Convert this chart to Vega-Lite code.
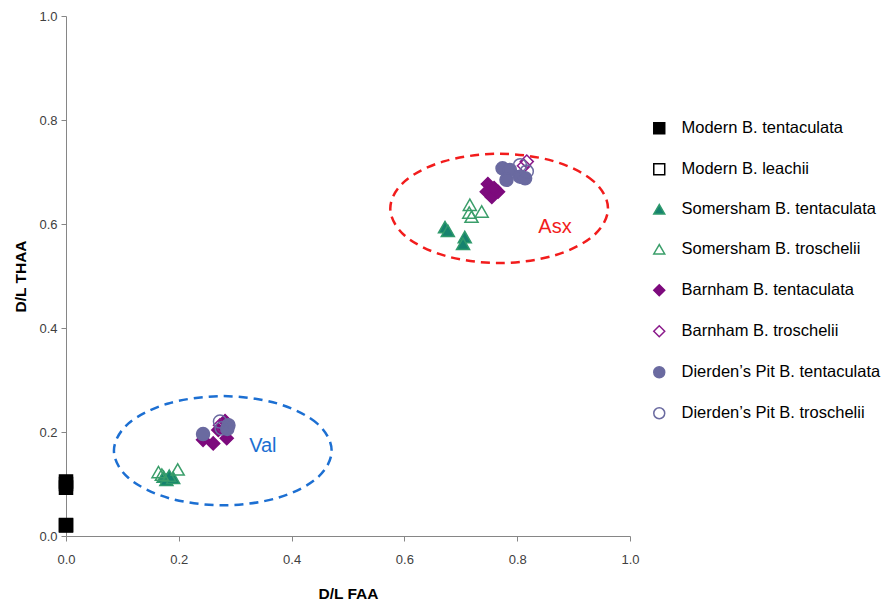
{
  "$schema": "https://vega.github.io/schema/vega-lite/v6.json",
  "width": 564,
  "height": 520,
  "autosize": {"type": "none"},
  "padding": {"left": 66, "top": 16, "right": 252, "bottom": 66},
  "background": "white",
  "config": {
    "view": {"stroke": null},
    "font": "Liberation Sans",
    "axis": {
      "grid": false,
      "domainColor": "#868686",
      "tickColor": "#868686",
      "tickSize": 5,
      "labelFontSize": 13,
      "labelColor": "#404040",
      "labelFlush": false,
      "titleFontSize": 15.5,
      "titleFontWeight": "bold",
      "titleColor": "#000000"
    }
  },
  "datasets": {
    "points": [
      {"series": "Modern B. leachii", "faa": 0, "thaa": 0.100},
      {"series": "Modern B. leachii", "faa": 0, "thaa": 0.020},
      {"series": "Modern B. tentaculata", "faa": 0, "thaa": 0.105},
      {"series": "Modern B. tentaculata", "faa": 0, "thaa": 0.093},
      {"series": "Modern B. tentaculata", "faa": 0, "thaa": 0.021},
      {"series": "Somersham B. tentaculata", "faa": 0.672, "thaa": 0.594},
      {"series": "Somersham B. tentaculata", "faa": 0.677, "thaa": 0.587},
      {"series": "Somersham B. tentaculata", "faa": 0.707, "thaa": 0.575},
      {"series": "Somersham B. tentaculata", "faa": 0.704, "thaa": 0.562},
      {"series": "Somersham B. tentaculata", "faa": 0.173, "thaa": 0.114},
      {"series": "Somersham B. tentaculata", "faa": 0.178, "thaa": 0.108},
      {"series": "Somersham B. tentaculata", "faa": 0.190, "thaa": 0.112},
      {"series": "Somersham B. tentaculata", "faa": 0.183, "thaa": 0.116},
      {"series": "Somersham B. troschelii", "faa": 0.716, "thaa": 0.637},
      {"series": "Somersham B. troschelii", "faa": 0.715, "thaa": 0.622},
      {"series": "Somersham B. troschelii", "faa": 0.719, "thaa": 0.614},
      {"series": "Somersham B. troschelii", "faa": 0.737, "thaa": 0.624},
      {"series": "Somersham B. troschelii", "faa": 0.164, "thaa": 0.123},
      {"series": "Somersham B. troschelii", "faa": 0.198, "thaa": 0.128},
      {"series": "Somersham B. troschelii", "faa": 0.170, "thaa": 0.118},
      {"series": "Barnham B. tentaculata", "faa": 0.748, "thaa": 0.677},
      {"series": "Barnham B. tentaculata", "faa": 0.746, "thaa": 0.662},
      {"series": "Barnham B. tentaculata", "faa": 0.755, "thaa": 0.652},
      {"series": "Barnham B. tentaculata", "faa": 0.766, "thaa": 0.662},
      {"series": "Barnham B. tentaculata", "faa": 0.759, "thaa": 0.669},
      {"series": "Barnham B. tentaculata", "faa": 0.243, "thaa": 0.185},
      {"series": "Barnham B. tentaculata", "faa": 0.261, "thaa": 0.178},
      {"series": "Barnham B. tentaculata", "faa": 0.285, "thaa": 0.188},
      {"series": "Barnham B. tentaculata", "faa": 0.270, "thaa": 0.204},
      {"series": "Barnham B. tentaculata", "faa": 0.282, "thaa": 0.221},
      {"series": "Barnham B. troschelii", "faa": 0.817, "thaa": 0.720},
      {"series": "Barnham B. troschelii", "faa": 0.812, "thaa": 0.712},
      {"series": "Barnham B. troschelii", "faa": 0.273, "thaa": 0.213},
      {"series": "Dierden’s Pit B. tentaculata", "faa": 0.774, "thaa": 0.707},
      {"series": "Dierden’s Pit B. tentaculata", "faa": 0.787, "thaa": 0.704},
      {"series": "Dierden’s Pit B. tentaculata", "faa": 0.781, "thaa": 0.685},
      {"series": "Dierden’s Pit B. tentaculata", "faa": 0.805, "thaa": 0.691},
      {"series": "Dierden’s Pit B. tentaculata", "faa": 0.814, "thaa": 0.688},
      {"series": "Dierden’s Pit B. tentaculata", "faa": 0.243, "thaa": 0.196},
      {"series": "Dierden’s Pit B. tentaculata", "faa": 0.288, "thaa": 0.213},
      {"series": "Dierden’s Pit B. tentaculata", "faa": 0.286, "thaa": 0.206},
      {"series": "Dierden’s Pit B. troschelii", "faa": 0.805, "thaa": 0.713},
      {"series": "Dierden’s Pit B. troschelii", "faa": 0.817, "thaa": 0.701},
      {"series": "Dierden’s Pit B. troschelii", "faa": 0.273, "thaa": 0.220},
      {"series": "Dierden’s Pit B. troschelii", "faa": 0.276, "thaa": 0.207}
    ],
    "ellipses": [
      {"group": "Asx", "i": 0, "faa": 0.961, "thaa": 0.630},
      {"group": "Asx", "i": 1, "faa": 0.9351, "thaa": 0.6825},
      {"group": "Asx", "i": 2, "faa": 0.8645, "thaa": 0.7209},
      {"group": "Asx", "i": 3, "faa": 0.768, "thaa": 0.735},
      {"group": "Asx", "i": 4, "faa": 0.6715, "thaa": 0.7209},
      {"group": "Asx", "i": 5, "faa": 0.6009, "thaa": 0.6825},
      {"group": "Asx", "i": 6, "faa": 0.575, "thaa": 0.630},
      {"group": "Asx", "i": 7, "faa": 0.6009, "thaa": 0.5775},
      {"group": "Asx", "i": 8, "faa": 0.6715, "thaa": 0.5391},
      {"group": "Asx", "i": 9, "faa": 0.768, "thaa": 0.525},
      {"group": "Asx", "i": 10, "faa": 0.8645, "thaa": 0.5391},
      {"group": "Asx", "i": 11, "faa": 0.9351, "thaa": 0.5775},
      {"group": "Val", "i": 0, "faa": 0.471, "thaa": 0.164},
      {"group": "Val", "i": 1, "faa": 0.4451, "thaa": 0.2165},
      {"group": "Val", "i": 2, "faa": 0.3745, "thaa": 0.2549},
      {"group": "Val", "i": 3, "faa": 0.278, "thaa": 0.269},
      {"group": "Val", "i": 4, "faa": 0.1815, "thaa": 0.2549},
      {"group": "Val", "i": 5, "faa": 0.1109, "thaa": 0.2165},
      {"group": "Val", "i": 6, "faa": 0.085, "thaa": 0.164},
      {"group": "Val", "i": 7, "faa": 0.1109, "thaa": 0.1115},
      {"group": "Val", "i": 8, "faa": 0.1815, "thaa": 0.0731},
      {"group": "Val", "i": 9, "faa": 0.278, "thaa": 0.059},
      {"group": "Val", "i": 10, "faa": 0.3745, "thaa": 0.0731},
      {"group": "Val", "i": 11, "faa": 0.4451, "thaa": 0.1115}
    ],
    "labels": [
      {"group": "Asx", "faa": 0.867, "thaa": 0.594},
      {"group": "Val", "faa": 0.349, "thaa": 0.174}
    ]
  },
  "layer": [
    {
      "data": {"name": "ellipses"},
      "transform": [{"filter": "datum.group === 'Asx'"}],
      "mark": {"type": "line", "interpolate": "cardinal-closed", "stroke": "#f21c1c", "strokeWidth": 2.5, "strokeDash": [9, 6], "clip": false},
      "encoding": {
        "x": {"field": "faa", "type": "quantitative", "title": "D/L FAA"},
        "y": {"field": "thaa", "type": "quantitative", "title": "D/L THAA"},
        "order": {"field": "i", "type": "quantitative"}
      }
    },
    {
      "data": {"name": "ellipses"},
      "transform": [{"filter": "datum.group === 'Val'"}],
      "mark": {"type": "line", "interpolate": "cardinal-closed", "stroke": "#1c6fd2", "strokeWidth": 2.5, "strokeDash": [9, 6], "clip": false},
      "encoding": {
        "x": {"field": "faa", "type": "quantitative", "title": "D/L FAA"},
        "y": {"field": "thaa", "type": "quantitative", "title": "D/L THAA"},
        "order": {"field": "i", "type": "quantitative"}
      }
    },
    {
      "data": {"name": "labels"},
      "mark": {"type": "text", "fontSize": 20, "align": "center", "baseline": "middle"},
      "encoding": {
        "x": {"field": "faa", "type": "quantitative", "title": "D/L FAA"},
        "y": {"field": "thaa", "type": "quantitative", "title": "D/L THAA"},
        "text": {"field": "group"},
        "color": {
          "field": "group",
          "type": "nominal",
          "scale": {"domain": ["Asx", "Val"], "range": ["#f21c1c", "#1c6fd2"]},
          "legend": null
        }
      }
    },
    {
      "data": {"name": "points"},
      "mark": {"type": "point", "size": 170, "strokeWidth": 1.5, "opacity": 1, "clip": false},
      "encoding": {
        "x": {
          "field": "faa",
          "type": "quantitative",
          "title": "D/L FAA",
          "scale": {"domain": [0, 1], "nice": false},
          "axis": {"values": [0, 0.2, 0.4, 0.6, 0.8, 1], "format": ".1f", "labelPadding": 12, "titlePadding": 20}
        },
        "y": {
          "field": "thaa",
          "type": "quantitative",
          "title": "D/L THAA",
          "scale": {"domain": [0, 1], "nice": false},
          "axis": {"values": [0, 0.2, 0.4, 0.6, 0.8, 1], "format": ".1f", "labelPadding": 4, "titlePadding": 10}
        },
        "shape": {
          "field": "series",
          "type": "nominal",
          "scale": {
            "domain": ["Modern B. tentaculata", "Modern B. leachii", "Somersham B. tentaculata", "Somersham B. troschelii", "Barnham B. tentaculata", "Barnham B. troschelii", "Dierden’s Pit B. tentaculata", "Dierden’s Pit B. troschelii"],
            "range": ["square", "square", "triangle-up", "triangle-up", "diamond", "diamond", "circle", "circle"]
          },
          "legend": {
            "title": null,
            "orient": "none",
            "legendX": 585,
            "legendY": 104,
            "padding": 0,
            "labelFontSize": 16.5,
            "labelColor": "#000000",
            "labelOffset": 14,
            "rowPadding": 23,
            "symbolSize": 120,
            "symbolStrokeWidth": 1.5,
            "labelLimit": 300
          }
        },
        "fill": {
          "field": "series",
          "type": "nominal",
          "scale": {
            "domain": ["Modern B. tentaculata", "Modern B. leachii", "Somersham B. tentaculata", "Somersham B. troschelii", "Barnham B. tentaculata", "Barnham B. troschelii", "Dierden’s Pit B. tentaculata", "Dierden’s Pit B. troschelii"],
            "range": ["#000000", "transparent", "#16826e", "transparent", "#7d0a7d", "transparent", "#6a6aa0", "transparent"]
          }
        },
        "stroke": {
          "field": "series",
          "type": "nominal",
          "scale": {
            "domain": ["Modern B. tentaculata", "Modern B. leachii", "Somersham B. tentaculata", "Somersham B. troschelii", "Barnham B. tentaculata", "Barnham B. troschelii", "Dierden’s Pit B. tentaculata", "Dierden’s Pit B. troschelii"],
            "range": ["#000000", "#000000", "#2f9a6c", "#3a9e6a", "#7d0a7d", "#8b1a8b", "#6a6aa0", "#6a6aa0"]
          }
        }
      }
    }
  ]
}
